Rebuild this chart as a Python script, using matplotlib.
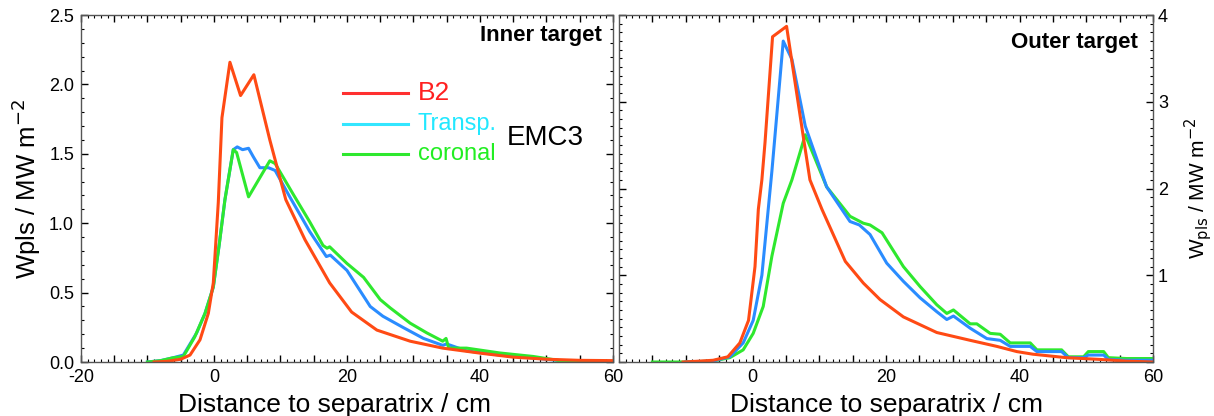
import matplotlib
matplotlib.use("Agg")
import matplotlib.pyplot as plt
from matplotlib.ticker import MultipleLocator, FuncFormatter

plt.rcParams['font.family'] = ['Liberation Sans', 'DejaVu Sans']

# inner target (left panel)
in_b2_x = [-9, -7, -5, -3.6, -2.1, -0.85, -0.1, 0.65, 1.2, 2.4, 4.0, 6.0, 8.4, 10.8, 13.7,
           17.4, 20.7, 24.5, 29.5, 34.4, 40, 45, 50, 55, 60]
in_b2_y = [0, 0.005, 0.02, 0.05, 0.16, 0.35, 0.57, 1.15, 1.76, 2.16, 1.92, 2.07, 1.60, 1.17, 0.88,
           0.57, 0.36, 0.23, 0.15, 0.10, 0.064, 0.035, 0.02, 0.012, 0.01]

in_tr_x = [-10, -8, -6.2, -4.6, -2.6, -1.35, -0.1, 0.8, 1.65, 2.9, 3.5, 4.3, 5.2, 5.9, 6.9, 8.2,
           9.2, 11.4, 14.4, 16.9, 17.5, 20, 23.5, 25.4, 28.4, 31.5, 34.4, 35, 38, 43, 48, 52, 56, 60]
in_tr_y = [0, 0.01, 0.03, 0.05, 0.21, 0.35, 0.54, 0.85, 1.17, 1.53, 1.55, 1.53, 1.54, 1.48, 1.40, 1.40,
           1.38, 1.19, 0.94, 0.76, 0.77, 0.66, 0.40, 0.33, 0.25, 0.17, 0.12, 0.13, 0.08, 0.05, 0.03, 0.01, 0.005, 0]

in_co_x = [-10, -8, -6.2, -4.6, -2.9, -1.35, -0.1, 0.8, 1.65, 2.9, 3.4, 5.2, 8.4, 9.2, 11.9, 14.4,
           16.4, 17.0, 17.4, 20, 22.5, 25, 26.5, 29.5, 32, 34.4, 34.9, 35.3, 38, 43, 48, 52, 56, 60]
in_co_y = [0, 0.01, 0.03, 0.04, 0.18, 0.35, 0.54, 0.85, 1.17, 1.53, 1.51, 1.19, 1.45, 1.43, 1.21, 1.01,
           0.84, 0.82, 0.83, 0.71, 0.61, 0.45, 0.39, 0.28, 0.21, 0.15, 0.17, 0.10, 0.10, 0.065, 0.04, 0.01, 0.01, 0]

# outer target (right panel)
out_b2_x = [-10.4, -8, -5.9, -3.7, -1.9, -0.6, 0.37, 0.87, 1.4, 1.87, 3.0, 5.1, 7.6, 8.6, 10.4, 13.9,
            16.6, 19.1, 22.6, 27.6, 32.6, 36.6, 39.6, 42, 47, 52, 56, 60]
out_b2_y = [0, 0.01, 0.02, 0.06, 0.22, 0.48, 1.10, 1.76, 2.10, 2.53, 3.75, 3.87, 2.60, 2.10, 1.76, 1.16,
            0.91, 0.72, 0.52, 0.34, 0.25, 0.18, 0.12, 0.09, 0.05, 0.03, 0.01, 0.0]

out_tr_x = [-10, -6, -3.4, -1.4, 0.1, 1.4, 2.9, 4.6, 5.9, 7.9, 11.1, 14.6, 16, 17.6, 20.1, 22.6, 25.1,
            27.6, 29.1, 30.1, 32.6, 35.1, 37.1, 38.6, 41.6, 42.6, 46.3, 47.3, 49.6, 50.3, 52.6, 53.3, 56, 60]
out_tr_y = [0, 0.01, 0.06, 0.22, 0.48, 1.0, 2.2, 3.70, 3.49, 2.72, 2.02, 1.62, 1.58, 1.47, 1.14, 0.93, 0.74,
            0.58, 0.49, 0.53, 0.39, 0.27, 0.25, 0.18, 0.18, 0.12, 0.12, 0.05, 0.05, 0.08, 0.08, 0.03, 0.02, 0.02]

out_co_x = [-15, -10.4, -6, -3.4, -1.4, 0.1, 1.6, 2.9, 4.6, 5.9, 7.9, 11.1, 14.6, 16.6, 17.6, 19.4, 22.6,
            25.1, 27.6, 29.1, 30.1, 32.6, 33.6, 35.6, 37.1, 38.6, 41.6, 42.6, 46.3, 47.3, 49.6, 50.3, 52.6,
            53.3, 56, 60]
out_co_y = [0, 0, 0.01, 0.05, 0.14, 0.33, 0.64, 1.22, 1.83, 2.10, 2.62, 2.02, 1.68, 1.60, 1.58, 1.49, 1.10,
            0.87, 0.66, 0.56, 0.60, 0.44, 0.44, 0.33, 0.32, 0.22, 0.22, 0.14, 0.14, 0.06, 0.06, 0.12, 0.12,
            0.05, 0.04, 0.04]

c_b2 = '#ff4a14'
c_tr = '#2a8cff'
c_co = '#2ee82e'
lw = 2.2

fig = plt.figure(figsize=(12.14, 4.16), dpi=100)
ax1 = fig.add_axes([0.0667, 0.1298, 0.4382, 0.834])
ax2 = fig.add_axes([0.5099, 0.1298, 0.4399, 0.834])

ax1.plot(in_tr_x, in_tr_y, color=c_tr, lw=lw)
ax1.plot(in_co_x, in_co_y, color=c_co, lw=lw)
ax1.plot(in_b2_x, in_b2_y, color=c_b2, lw=lw)

ax2.plot(out_co_x, out_co_y, color=c_co, lw=lw)
ax2.plot(out_tr_x, out_tr_y, color=c_tr, lw=lw)
ax2.plot(out_b2_x, out_b2_y, color=c_b2, lw=lw)


def xfmt(v, pos):
    return '%d' % v if abs(v % 20) < 1e-6 else ''


for ax in (ax1, ax2):
    ax.set_xlim(-20, 60)
    ax.xaxis.set_major_locator(MultipleLocator(5))
    ax.xaxis.set_minor_locator(MultipleLocator(1))
    ax.xaxis.set_major_formatter(FuncFormatter(xfmt))
    ax.tick_params(which='both', direction='in', top=True, bottom=True, left=True, right=True)
    ax.tick_params(which='major', length=5, width=1, labelsize=13)
    ax.tick_params(axis='x', pad=5)
    ax.tick_params(which='minor', length=2.5, width=0.8)
    ax.set_xlabel('Distance to separatrix / cm', fontsize=19, labelpad=2)
    for s in ax.spines.values():
        s.set_linewidth(1.0)
        s.set_color('#555555')

ax1.set_ylim(0, 2.5)
ax1.yaxis.set_major_locator(MultipleLocator(0.5))
ax1.yaxis.set_minor_locator(MultipleLocator(0.1))
ax1.yaxis.set_major_formatter(FuncFormatter(lambda v, p: '%.1f' % v))
ax1.tick_params(axis='y', pad=5)
ax1.set_ylabel('Wpls / MW m$^{-2}$', fontsize=18.5, labelpad=4)
ax1.xaxis.set_label_coords(0.476, -0.088)

ax2.set_ylim(0, 4)
ax2.yaxis.set_major_locator(MultipleLocator(1))
ax2.yaxis.set_minor_locator(MultipleLocator(0.1))
ax2.yaxis.set_major_formatter(FuncFormatter(lambda v, p: '%d' % v if v > 0 else ''))
ax2.tick_params(axis='y', labelleft=False, labelright=True)
ax2.yaxis.set_label_position('right')
ax2.set_ylabel('W$_{\\rm pls}$ / MW m$^{-2}$', fontsize=15, labelpad=10)
ax2.xaxis.set_label_coords(0.5, -0.088)
# hide the -20 label on the right panel
ax2.set_xticks([-15, -10, -5, 0, 5, 10, 15, 20, 25, 30, 35, 40, 45, 50, 55, 60])

ax1.text(0.979, 0.942, 'Inner target', transform=ax1.transAxes, ha='right', va='center',
         fontsize=16, fontweight='bold')
ax2.text(0.972, 0.922, 'Outer target', transform=ax2.transAxes, ha='right', va='center',
         fontsize=16, fontweight='bold')

# legend
leg_names = ['B2', 'Transp.', 'coronal']
leg_line_colors = ['#ff3030', '#33e6ff', '#2ee82e']
leg_text_colors = ['#ff2020', '#22e8ff', '#22ee22']
leg_sizes = [19, 17, 17]
leg_y = [0.775, 0.686, 0.599]
for name, lc, tc, fs, yy in zip(leg_names, leg_line_colors, leg_text_colors, leg_sizes, leg_y):
    ax1.plot([0.4925, 0.6147], [yy, yy], color=lc, lw=lw, transform=ax1.transAxes)
    ax1.text(0.633, yy, name, color=tc, fontsize=fs, transform=ax1.transAxes, va='center', ha='left')
ax1.text(0.80, 0.645, 'EMC3', fontsize=20, transform=ax1.transAxes, va='center', ha='left')

fig.savefig('out.png', dpi=100)
